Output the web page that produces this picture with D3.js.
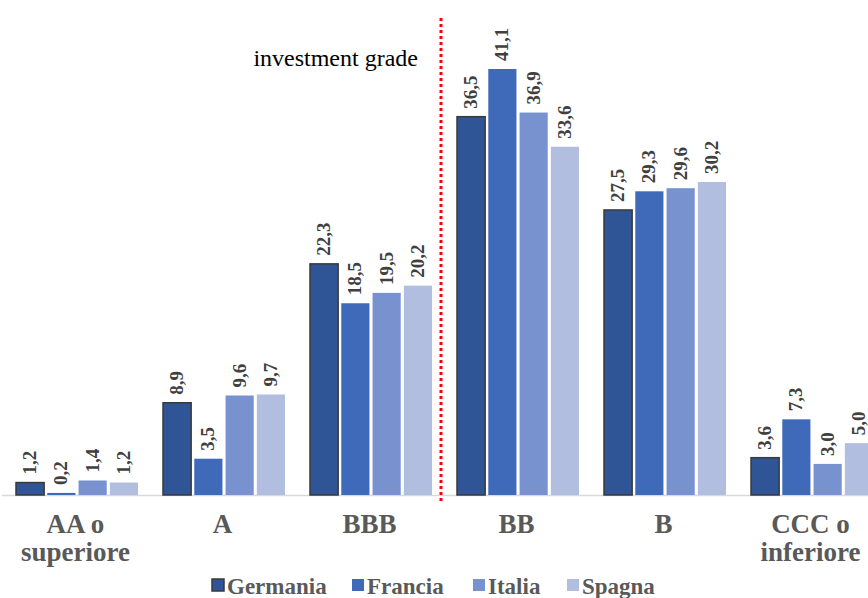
<!DOCTYPE html>
<html>
<head>
<meta charset="utf-8">
<script src="https://cdn.jsdelivr.net/npm/d3@7"></script>
<style>
  body { margin: 0; background: #fff; }
  svg { display: block; }
  text { font-family: "Liberation Serif", "Times New Roman", serif; }
</style>
</head>
<body>
<script>
// rating categories and the four countries
const categories = [["AA o", "superiore"], ["A"], ["BBB"], ["BB"], ["B"], ["CCC o", "inferiore"]];
const series = ["Germania", "Francia", "Italia", "Spagna"];
const germania = [1.2, 8.9, 22.3, 36.5, 27.5, 3.6];
const francia  = [0.2, 3.5, 18.5, 41.1, 29.3, 7.3];
const italia   = [1.4, 9.6, 19.5, 36.9, 29.6, 3.0];
const spagna   = [1.2, 9.7, 20.2, 33.6, 30.2, 5.0];
const values = [germania, francia, italia, spagna];
const colors = ["#2f5597", "#3f69b9", "#7892cf", "#b2bee0"];

const W = 868, H = 598;
const baseY = 495;

const svg = d3.select("body").append("svg").attr("width", W).attr("height", H);

const x = d3.scaleBand().domain(d3.range(categories.length)).range([2, 884]);
const xs = d3.scaleBand().domain(series).range([14, 136]).paddingInner(0.1);
const y = d3.scaleLinear().domain([0, 41.1]).range([baseY, 69]);

// axis line
svg.append("line")
    .attr("x1", 2).attr("x2", W)
    .attr("y1", baseY + 0.5).attr("y2", baseY + 0.5)
    .attr("stroke", "#d9d9d9").attr("stroke-width", 1.5);

// bars, one group per series
series.forEach(function(s, si) {
  const g = svg.append("g");
  g.selectAll("rect")
      .data(values[si])
      .enter().append("rect")
        .attr("x", function(d, i){ return x(i) + xs(s); })
        .attr("y", function(d){ return y(d); })
        .attr("width", xs.bandwidth())
        .attr("height", function(d){ return baseY - y(d); })
        .attr("fill", colors[si])
        .attr("stroke", si === 0 ? "#3a3a3a" : "none")
        .attr("stroke-width", si === 0 ? 1.5 : 0);

  // rotated value labels
  g.selectAll("text")
      .data(values[si])
      .enter().append("text")
        .attr("transform", function(d, i){
          const cx = x(i) + xs(s) + xs.bandwidth() / 2 + 6;
          return "translate(" + cx + "," + (y(d) - 8) + ") rotate(-90)";
        })
        .attr("text-anchor", "start")
        .attr("font-weight", "bold")
        .attr("font-size", 19)
        .attr("fill", "#404040")
        .text(function(d){ return d3.format(".1f")(d).replace(".", ","); });
});

// category labels
categories.forEach(function(lines, i) {
  const t = svg.append("text")
      .attr("x", x(i) + x.bandwidth() / 2)
      .attr("y", 533)
      .attr("text-anchor", "middle")
      .attr("font-weight", "bold")
      .attr("font-size", 27)
      .attr("fill", "#595959");
  t.selectAll("tspan")
      .data(lines)
      .enter().append("tspan")
        .attr("x", x(i) + x.bandwidth() / 2)
        .attr("dy", function(d, j){ return j === 0 ? 0 : 28; })
        .text(function(d){ return d; });
});

// investment grade divider
svg.append("line")
    .attr("x1", 441).attr("x2", 441)
    .attr("y1", 18).attr("y2", 502)
    .attr("stroke", "#ff0000").attr("stroke-width", 3)
    .attr("stroke-dasharray", "3,3");

svg.append("text")
    .attr("x", 418).attr("y", 66)
    .attr("text-anchor", "end")
    .attr("font-size", 24)
    .attr("fill", "#000")
    .text("investment grade");

// legend
const legendX = [212, 352, 473, 567];
const legend = svg.append("g");
series.forEach(function(s, si) {
  legend.append("rect")
      .attr("x", legendX[si]).attr("y", 579)
      .attr("width", 12).attr("height", 12)
      .attr("fill", colors[si])
      .attr("stroke", si === 0 ? "#3a3a3a" : "none")
      .attr("stroke-width", 1.5);
  legend.append("text")
      .attr("x", legendX[si] + 15).attr("y", 594)
      .attr("font-weight", "bold")
      .attr("font-size", 23)
      .attr("fill", "#595959")
      .text(s);
});
</script>
</body>
</html>
